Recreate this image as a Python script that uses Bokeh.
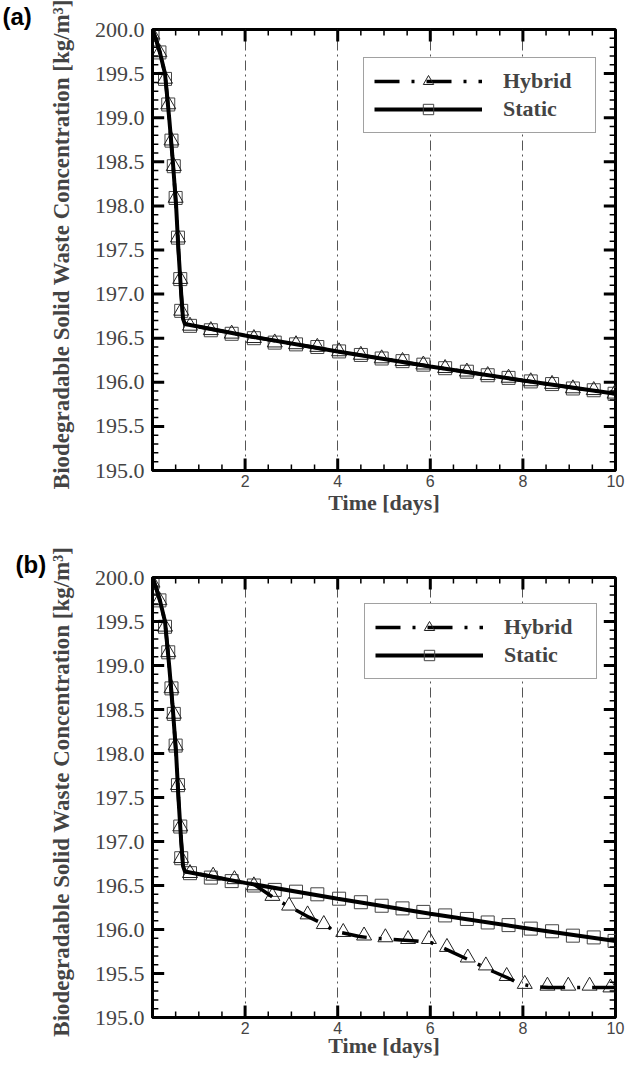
from bokeh.plotting import figure
from bokeh.layouts import column
from bokeh.models import FixedTicker, Range1d, Legend, LegendItem
from bokeh.embed import file_html
from bokeh.resources import INLINE

# ---------------- data ----------------
static_line_t = [0.0, 0.08, 0.16, 0.27, 0.36, 0.44, 0.51, 0.56, 0.62, 0.66, 0.70, 2.0, 4.0, 6.0, 8.0, 10.0]
static_line_c = [200.0, 199.88, 199.74, 199.5, 199.0, 198.5, 198.0, 197.5, 197.0, 196.72, 196.66, 196.53, 196.35, 196.18, 196.02, 195.87]

static_mark_t = [0.0, 0.15, 0.27, 0.34, 0.41, 0.46, 0.50, 0.55, 0.60, 0.62, 0.81, 1.26, 1.71, 2.19, 2.64, 3.10,
                 3.56, 4.03, 4.50, 4.95, 5.40, 5.85, 6.32, 6.79, 7.24, 7.69, 8.17, 8.63, 9.08, 9.53, 9.98]
static_mark_c = [199.94, 199.74, 199.44, 199.15, 198.74, 198.45, 198.09, 197.64, 197.17, 196.81, 196.64, 196.59,
                 196.55, 196.50, 196.45, 196.43, 196.40, 196.35, 196.31, 196.27, 196.24, 196.20, 196.16, 196.12,
                 196.08, 196.05, 196.01, 195.98, 195.93, 195.91, 195.87]

# panel (a): hybrid coincides with static
hyb_a_line_t = static_line_t
hyb_a_line_c = static_line_c
hyb_a_mark_t = static_mark_t
hyb_a_mark_c = static_mark_c

# panel (b): hybrid departs after ~2 days
hyb_b_line_t = [0.0, 0.08, 0.16, 0.27, 0.36, 0.44, 0.51, 0.56, 0.62, 0.66, 0.70, 2.0, 2.2, 2.59, 2.85, 3.38,
                3.66, 3.94, 4.47, 4.80, 5.13, 5.69, 6.02, 6.32, 6.81, 7.09, 7.37, 7.97, 8.25, 8.56, 10.0]
hyb_b_line_c = [200.0, 199.88, 199.74, 199.5, 199.0, 198.5, 198.0, 197.5, 197.0, 196.72, 196.66, 196.53, 196.51,
                196.37, 196.29, 196.14, 196.07, 195.98, 195.92, 195.90, 195.89, 195.87, 195.85, 195.78, 195.66,
                195.59, 195.52, 195.38, 195.35, 195.34, 195.34]
hyb_b_mark_t = [0.0, 0.15, 0.27, 0.34, 0.41, 0.46, 0.50, 0.55, 0.60, 0.62, 0.81, 1.31, 1.77, 2.19, 2.59, 2.95,
                3.35, 3.70, 4.12, 4.57, 5.03, 5.52, 5.97, 6.36, 6.81, 7.20, 7.65, 8.04, 8.53, 8.98, 9.44, 9.89]
hyb_b_mark_c = [199.94, 199.74, 199.44, 199.15, 198.74, 198.45, 198.09, 197.64, 197.17, 196.81, 196.64, 196.61,
                196.57, 196.50, 196.38, 196.27, 196.17, 196.06, 195.97, 195.93, 195.91, 195.89, 195.89, 195.80,
                195.68, 195.59, 195.47, 195.38, 195.36, 195.36, 195.36, 195.34]

x_ticks = [2, 4, 6, 8, 10]
x_minor = [0.5 * i for i in range(21)]
grid_ticks = [2, 4, 6, 8]
y_ticks = [195.0, 195.5, 196.0, 196.5, 197.0, 197.5, 198.0, 198.5, 199.0, 199.5, 200.0]
y_tick_labels = ["195.0", "195.5", "196.0", "196.5", "197.0", "197.5", "198.0", "198.5", "199.0", "199.5", "200.0"]
y_minor = [round(195 + 0.1 * i, 1) for i in range(51)]

x_title = "Time [days]"
y_title = "\u00a0\u00a0Biodegradable Solid Waste Concentration [kg/m\u00b3]"
labels = ["Hybrid", "Static"]

SERIF = "Liberation Serif"
SANS = "Liberation Sans"
X0, X1, Y0, Y1 = 0, 10, 195, 200
FRAME_W, FRAME_H = 475.0, 441.0
TICK_COLOR = "black"


def ticks_inside(p):
    """Inward tick marks on all four frame sides, drawn as segments inside the frame."""
    px_x = (X1 - X0) / FRAME_W   # data units per pixel, x
    px_y = (Y1 - Y0) / FRAME_H   # data units per pixel, y
    xm = [t for t in x_minor if t not in x_ticks]
    ym = [t for t in y_minor if t not in y_ticks]
    for t_list, ln, lw in ((x_ticks, 12, 3), (xm, 6, 1.5)):
        n = len(t_list)
        p.segment(x0=t_list, y0=[Y0] * n, x1=t_list, y1=[Y0 + ln * px_y] * n,
                  line_color=TICK_COLOR, line_width=lw)
        p.segment(x0=t_list, y0=[Y1] * n, x1=t_list, y1=[Y1 - ln * px_y] * n,
                  line_color=TICK_COLOR, line_width=lw)
    for t_list, ln, lw in ((y_ticks, 12, 3), (ym, 6, 1.5)):
        n = len(t_list)
        p.segment(x0=[X0] * n, y0=t_list, x1=[X0 + ln * px_x] * n, y1=t_list,
                  line_color=TICK_COLOR, line_width=lw)
        p.segment(x0=[X1] * n, y0=t_list, x1=[X1 - ln * px_x] * n, y1=t_list,
                  line_color=TICK_COLOR, line_width=lw)


def panel(letter, hl_t, hl_c, hm_t, hm_c, height, mb_left, mb_right, mb_top, mb_bottom,
          leg_loc, lab_standoff, title_offset):
    p = figure(width=636, height=height, x_range=Range1d(X0, X1), y_range=Range1d(Y0, Y1),
               output_backend="svg", toolbar_location=None, title=letter,
               min_border_left=mb_left, min_border_right=mb_right,
               min_border_top=mb_top, min_border_bottom=mb_bottom)
    p.outline_line_color = "black"
    p.outline_line_width = 3
    p.background_fill_color = "white"
    p.border_fill_color = "white"

    p.title.align = "left"
    p.title.offset = title_offset
    p.title.standoff = 0
    p.title.text_font = SANS
    p.title.text_font_style = "bold"
    p.title.text_font_size = "24px"
    p.title.text_color = "black"

    xa = p.xaxis[0]
    xa.ticker = FixedTicker(ticks=x_ticks, minor_ticks=x_minor)
    xa.axis_line_width = 3
    xa.major_tick_in = 0
    xa.major_tick_out = 0
    xa.minor_tick_in = 0
    xa.minor_tick_out = 0
    xa.major_label_text_font = SANS
    xa.major_label_text_font_size = "16px"
    xa.major_label_standoff = 4
    xa.axis_label = x_title
    xa.axis_label_text_font = SERIF
    xa.axis_label_text_font_style = "bold"
    xa.axis_label_text_font_size = "22px"
    xa.axis_label_standoff = lab_standoff

    ya = p.yaxis[0]
    ya.ticker = FixedTicker(ticks=y_ticks, minor_ticks=y_minor)
    ya.axis_line_width = 3
    ya.major_tick_in = 0
    ya.major_tick_out = 0
    ya.minor_tick_in = 0
    ya.minor_tick_out = 0
    ya.major_label_overrides = {t: s for t, s in zip(y_ticks, y_tick_labels)}
    ya.major_label_text_font = SERIF
    ya.major_label_text_font_size = "22px"
    ya.major_label_standoff = 8
    ya.axis_label = y_title
    ya.axis_label_text_font = SERIF
    ya.axis_label_text_font_style = "bold"
    ya.axis_label_text_font_size = "23px"
    ya.axis_label_standoff = 18

    p.xgrid.ticker = FixedTicker(ticks=grid_ticks)
    p.xgrid.grid_line_color = "#555555"
    p.xgrid.grid_line_width = 1
    p.xgrid.grid_line_dash = "10 4 2 4"
    p.ygrid.grid_line_color = None

    sq = p.scatter(static_mark_t, static_mark_c, marker="square", size=13, fill_color=None,
                   line_color="#444444", line_width=1)
    tri = p.scatter(hm_t, hm_c, marker="triangle", size=15, fill_color=None,
                    line_color="#222222", line_width=1)
    hl = p.line(hl_t, hl_c, line_color="black", line_width=3.5, line_dash="25 12 3 12")
    sl = p.line(static_line_t, static_line_c, line_color="black", line_width=4)

    ticks_inside(p)

    leg = Legend(items=[LegendItem(label=labels[0], renderers=[hl, tri]),
                        LegendItem(label=labels[1], renderers=[sl, sq])],
                 location=leg_loc)
    leg.label_text_font = SERIF
    leg.label_text_font_style = "bold"
    leg.label_text_font_size = "22px"
    leg.glyph_width = 108
    leg.glyph_height = 26
    leg.label_height = 22
    leg.label_width = 82
    leg.label_standoff = 21
    leg.padding = 10
    leg.spacing = 2
    leg.margin = 0
    leg.border_line_color = "#444444"
    leg.border_line_width = 1
    leg.background_fill_color = "white"
    leg.background_fill_alpha = 1
    p.add_layout(leg)
    return p


pa = panel("(a)", hyb_a_line_t, hyb_a_line_c, hyb_a_mark_t, hyb_a_mark_c,
           532, 152, 9, 29, 62, (211, 337), 0, -150)
pb = panel("(b)", hyb_b_line_t, hyb_b_line_c, hyb_b_mark_t, hyb_b_mark_c,
           528, 139, 21, 45, 42, (212, 338), -4, -137)

layout = column(pa, pb, spacing=0)
open("out.html", "w").write(file_html(layout, INLINE))
